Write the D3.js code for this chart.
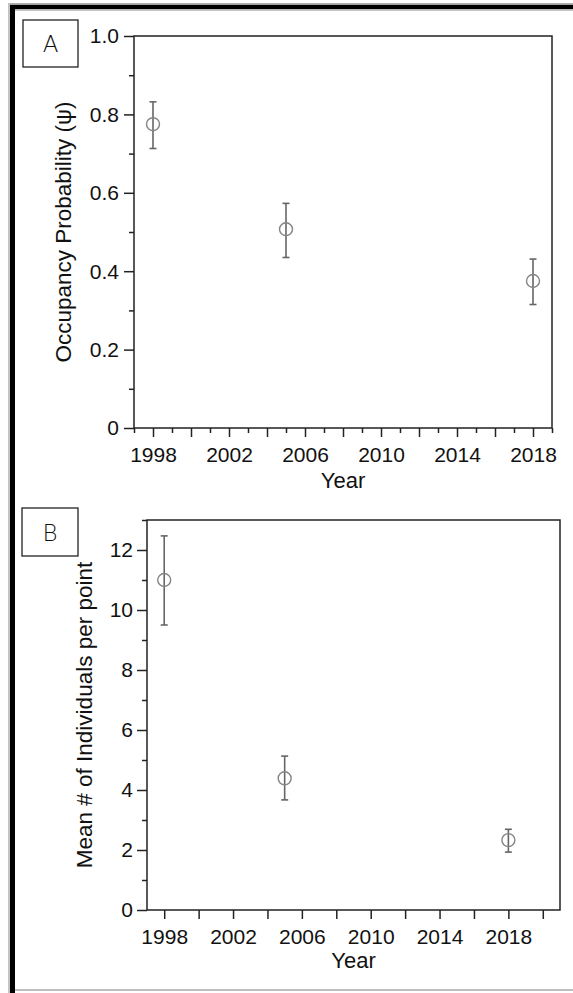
<!DOCTYPE html>
<html>
<head>
<meta charset="utf-8">
<script src="https://cdn.jsdelivr.net/npm/d3@7"></script>
<style>
  html, body { margin: 0; padding: 0; background: #fff; }
  svg { display: block; }
</style>
</head>
<body>
<div id="chart"></div>
<script>
// survey years and estimates
const years = [1998, 2005, 2018];

// panel A: occupancy probability with CI
const psi = [0.775, 0.507, 0.375];
const psiLo = [0.713, 0.435, 0.315];
const psiHi = [0.832, 0.573, 0.431];

// panel B: mean individuals per point with CI
const abund = [11.0, 4.39, 2.33];
const abundLo = [9.5, 3.67, 1.93];
const abundHi = [12.47, 5.13, 2.69];

// tick values
const yearMajorA = d3.range(1998, 2019, 2);
const yearMinorA = d3.range(1997, 2020, 2);
const yearMajorB = d3.range(1998, 2021, 2);
const yearLabels = [1998, 2002, 2006, 2010, 2014, 2018];
const psiMajor = [0, 0.2, 0.4, 0.6, 0.8, 1.0];
const psiMinor = [0.1, 0.3, 0.5, 0.7, 0.9];
const abundMajor = [0, 2, 4, 6, 8, 10, 12];
const abundMinor = [1, 3, 5, 7, 9, 11, 13];

const W = 573, H = 993;
const FONT = "'Liberation Sans', Arial, sans-serif";

const svg = d3.select("#chart").append("svg")
  .attr("width", W)
  .attr("height", H);

// outer window frame (thick black left/top, thin grey bottom)
svg.append("line").attr("x1", 10).attr("x2", W).attr("y1", 3.8).attr("y2", 3.8)
  .attr("stroke", "#b0b0b0").attr("stroke-width", 1.5);
svg.append("line").attr("x1", 10).attr("x2", W).attr("y1", 7).attr("y2", 7)
  .attr("stroke", "#000").attr("stroke-width", 4.5);
svg.append("line").attr("x1", 10).attr("x2", W).attr("y1", 10.2).attr("y2", 10.2)
  .attr("stroke", "#b0b0b0").attr("stroke-width", 1.2);
svg.append("line").attr("x1", 9).attr("x2", 9).attr("y1", 3).attr("y2", H)
  .attr("stroke", "#b0b0b0").attr("stroke-width", 1.5);
svg.append("line").attr("x1", 12.5).attr("x2", 12.5).attr("y1", 5).attr("y2", H)
  .attr("stroke", "#000").attr("stroke-width", 5);
svg.append("line").attr("x1", 15).attr("x2", W).attr("y1", 990).attr("y2", 990)
  .attr("stroke", "#a8a8a8").attr("stroke-width", 1.5);

function panel(cfg) {
  const x = d3.scaleLinear().domain(cfg.xDomain).range(cfg.xRange);
  const y = d3.scaleLinear().domain(cfg.yDomain).range(cfg.yRange);
  const g = svg.append("g");

  // x minor ticks
  if (cfg.xMinor) {
    g.append("g")
      .attr("transform", `translate(0,${cfg.yRange[0]})`)
      .call(d3.axisBottom(x).tickValues(cfg.xMinor).tickSize(5).tickFormat(""))
      .call(a => a.select(".domain").remove());
  }
  // x major ticks + labels
  const xa = g.append("g")
    .attr("transform", `translate(0,${cfg.yRange[0]})`)
    .call(d3.axisBottom(x).tickValues(cfg.xMajor).tickSize(9).tickPadding(10)
      .tickFormat(d => yearLabels.includes(d) ? String(d) : ""))
    .call(a => a.select(".domain").remove());
  xa.selectAll("text")
    .style("font-family", FONT).style("font-size", "21px").attr("fill", "#111");

  // y minor ticks
  g.append("g")
    .attr("transform", `translate(${cfg.xRange[0]},0)`)
    .call(d3.axisLeft(y).tickValues(cfg.yMinor).tickSize(5).tickFormat(""))
    .call(a => a.select(".domain").remove());
  // y major ticks + labels
  const ya = g.append("g")
    .attr("transform", `translate(${cfg.xRange[0]},0)`)
    .call(d3.axisLeft(y).tickValues(cfg.yMajor).tickSize(10).tickPadding(cfg.yPad)
      .tickFormat(cfg.yFormat))
    .call(a => a.select(".domain").remove());
  ya.selectAll("text")
    .style("font-family", FONT).style("font-size", "21px").attr("fill", "#111").attr("dy", "0.33em");

  g.selectAll(".tick line").attr("stroke", "#222").attr("stroke-width", 1.5);

  // plot frame
  g.append("rect")
    .attr("x", cfg.xRange[0])
    .attr("y", cfg.yRange[1])
    .attr("width", cfg.xRange[1] - cfg.xRange[0])
    .attr("height", cfg.yRange[0] - cfg.yRange[1])
    .attr("fill", "none")
    .attr("stroke", "#222")
    .attr("stroke-width", 1.5);

  // axis titles
  g.append("text")
    .attr("x", (cfg.xRange[0] + cfg.xRange[1]) / 2)
    .attr("y", cfg.xTitleY)
    .attr("text-anchor", "middle")
    .style("font-family", FONT)
    .style("font-size", "22px")
    .attr("fill", "#111")
    .text("Year");

  g.append("text")
    .attr("transform", `translate(${cfg.yTitleX},${(cfg.yRange[0] + cfg.yRange[1]) / 2}) rotate(-90)`)
    .attr("text-anchor", "middle")
    .style("font-family", FONT)
    .style("font-size", "22.5px")
    .attr("fill", "#111")
    .text(cfg.yTitle);

  // panel letter box
  g.append("rect")
    .attr("x", cfg.box[0]).attr("y", cfg.box[1])
    .attr("width", cfg.box[2]).attr("height", cfg.box[3])
    .attr("fill", "#fff").attr("stroke", "#222").attr("stroke-width", 1.3);
  g.append("text")
    .attr("x", cfg.box[0] + cfg.box[2] / 2)
    .attr("y", cfg.box[1] + cfg.box[3] / 2 + 8.5)
    .attr("text-anchor", "middle")
    .style("font-family", "'DejaVu Sans', sans-serif")
    .style("font-weight", 200)
    .style("font-size", "23px")
    .attr("fill", "#111")
    .text(cfg.letter);

  // error bars
  const pts = years.map((yr, i) => ({ yr, v: cfg.vals[i], lo: cfg.lo[i], hi: cfg.hi[i] }));
  const bars = g.append("g").attr("stroke", "#666").attr("stroke-width", 1.6);
  pts.forEach(d => {
    const cx = x(d.yr);
    bars.append("line").attr("x1", cx).attr("x2", cx).attr("y1", y(d.lo)).attr("y2", y(d.hi));
    bars.append("line").attr("x1", cx - 3.5).attr("x2", cx + 3.5).attr("y1", y(d.lo)).attr("y2", y(d.lo));
    bars.append("line").attr("x1", cx - 3.5).attr("x2", cx + 3.5).attr("y1", y(d.hi)).attr("y2", y(d.hi));
  });

  // open circle markers
  g.selectAll(".pt")
    .data(pts)
    .enter()
    .append("circle")
    .attr("cx", d => x(d.yr))
    .attr("cy", d => y(d.v))
    .attr("r", 6.5)
    .attr("fill", "none")
    .attr("stroke", "#858585")
    .attr("stroke-width", 1.4);
}

panel({
  letter: "A",
  box: [23, 20, 55, 47],
  xDomain: [1997, 2019], xRange: [134, 552],
  yDomain: [0, 1], yRange: [428, 36],
  xMajor: yearMajorA, xMinor: yearMinorA,
  yMajor: psiMajor, yMinor: psiMinor,
  yFormat: d => d === 0 ? "0" : d3.format(".1f")(d),
  yPad: 5,
  xTitleY: 488, yTitleX: 71,
  yTitle: "Occupancy Probability (\u03C8)",
  vals: psi, lo: psiLo, hi: psiHi
});

panel({
  letter: "B",
  box: [22, 508, 56, 48],
  xDomain: [1997, 2021], xRange: [147, 560],
  yDomain: [0, 13], yRange: [910, 520],
  xMajor: yearMajorB, xMinor: null,
  yMajor: abundMajor, yMinor: abundMinor,
  yFormat: d => String(d),
  yPad: 4,
  xTitleY: 968, yTitleX: 92,
  yTitle: "Mean # of Individuals per point",
  vals: abund, lo: abundLo, hi: abundHi
});
</script>
</body>
</html>
